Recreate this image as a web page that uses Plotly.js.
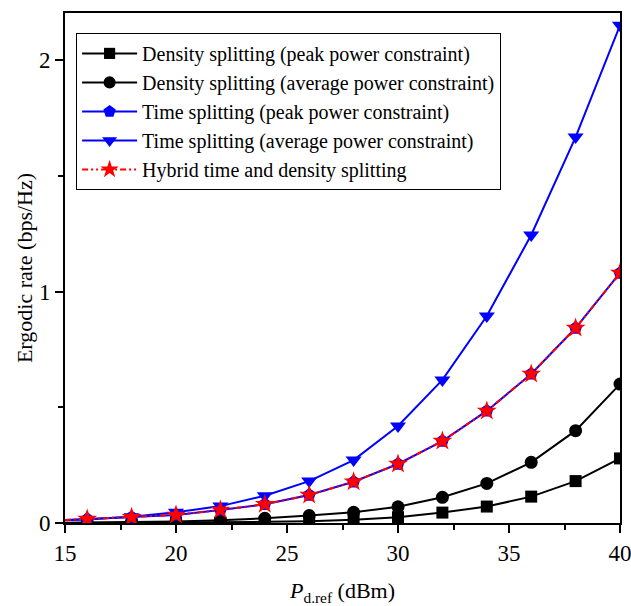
<!DOCTYPE html>
<html>
<head>
<meta charset="utf-8">
<script src="https://cdn.plot.ly/plotly-3.0.1.min.js"></script>
<style>html,body{margin:0;padding:0;background:#fff;}#chart{width:631px;height:606px;}</style>
</head>
<body>
<div id="chart"></div>
<script>
var power = [15, 16, 18, 20, 22, 24, 26, 28, 30, 32, 34, 36, 38, 40];
var densityPeak = [0.0003, 0.0005, 0.001, 0.002, 0.003, 0.005, 0.008, 0.014, 0.025, 0.045, 0.071, 0.114, 0.181, 0.279];
var densityAvg = [0.001, 0.002, 0.004, 0.007, 0.012, 0.020, 0.032, 0.046, 0.070, 0.111, 0.171, 0.262, 0.399, 0.600];
var timePeak = [0.013, 0.017, 0.025, 0.035, 0.056, 0.081, 0.121, 0.178, 0.255, 0.354, 0.484, 0.644, 0.842, 1.080];
var timeAvg = [0.012, 0.015, 0.027, 0.046, 0.073, 0.118, 0.181, 0.272, 0.419, 0.618, 0.894, 1.244, 1.667, 2.150];
var hybrid = [0.013, 0.017, 0.025, 0.035, 0.056, 0.081, 0.121, 0.178, 0.255, 0.354, 0.484, 0.644, 0.842, 1.080];
var seriesNames = [
  'Density splitting (peak power constraint)',
  'Density splitting (average power constraint)',
  'Time splitting (peak power constraint)',
  'Time splitting (average power constraint)',
  'Hybrid time and density splitting'
];

function sizes(s) { return power.map(function (p, i) { return i === 0 ? 0 : s; }); }
function mk(symbol, size, color) {
  return {symbol: symbol, size: sizes(size), color: color, opacity: 1, line: {width: 0, color: color}};
}

var traces = [
  {x: power, y: densityPeak, name: seriesNames[0], mode: 'lines+markers',
   line: {color: '#000000', width: 2}, marker: mk('square', 12, '#000000')},
  {x: power, y: densityAvg, name: seriesNames[1], mode: 'lines+markers',
   line: {color: '#000000', width: 2}, marker: mk('circle', 13, '#000000')},
  {x: power, y: timePeak, name: seriesNames[2], mode: 'lines+markers',
   line: {color: '#0000ff', width: 2}, marker: mk('pentagon', 14, '#0000ff')},
  {x: power, y: timeAvg, name: seriesNames[3], mode: 'lines+markers',
   line: {color: '#0000ff', width: 2}, marker: mk('triangle-down', 14, '#0000ff')},
  {x: power, y: hybrid, name: seriesNames[4], mode: 'lines+markers',
   line: {color: '#ff0000', width: 2, dash: '6px,3px,2px,3px,2px,3px'}, marker: mk('star', 15, '#ff0000')}
];

var fontFam = '"Liberation Serif", "Times New Roman", serif';
var layout = {
  width: 631, height: 606,
  margin: {l: 65, r: 11, t: 13, b: 83},
  paper_bgcolor: '#ffffff', plot_bgcolor: '#ffffff',
  font: {family: fontFam, color: '#000000', size: 22},
  showlegend: true,
  legend: {x: 0.02, y: 0.961, xanchor: 'left', yanchor: 'top',
    bordercolor: '#000000', borderwidth: 1, bgcolor: '#ffffff',
    font: {family: fontFam, size: 20, color: '#000000'},
    itemwidth: 55, tracegroupgap: 0},
  xaxis: {
    range: [15, 40], dtick: 5, tick0: 15,
    showline: true, linecolor: '#000000', linewidth: 2, mirror: true,
    ticks: 'outside', ticklen: 8, tickwidth: 2, tickcolor: '#000000',
    minor: {dtick: 2.5, tick0: 15, ticks: 'outside', ticklen: 5, tickwidth: 2, tickcolor: '#000000'},
    showgrid: false, zeroline: false, ticklabeloverflow: 'allow',
    tickfont: {family: fontFam, size: 23},
    title: {text: '<i>P</i><sub>d.ref</sub> (dBm)', font: {family: fontFam, size: 22}, standoff: 22}
  },
  yaxis: {
    range: [0, 2.203], dtick: 1, tick0: 0,
    showline: true, linecolor: '#000000', linewidth: 2, mirror: true,
    ticks: 'outside', ticklen: 8, tickwidth: 2, tickcolor: '#000000',
    minor: {dtick: 0.5, tick0: 0, ticks: 'outside', ticklen: 5, tickwidth: 2, tickcolor: '#000000'},
    showgrid: false, zeroline: false, ticklabeloverflow: 'allow',
    tickfont: {family: fontFam, size: 23},
    title: {text: 'Ergodic rate (bps/Hz)', font: {family: fontFam, size: 22}, standoff: 0}
  }
};

Plotly.newPlot('chart', traces, layout, {displayModeBar: false, staticPlot: true});
</script>
</body>
</html>
